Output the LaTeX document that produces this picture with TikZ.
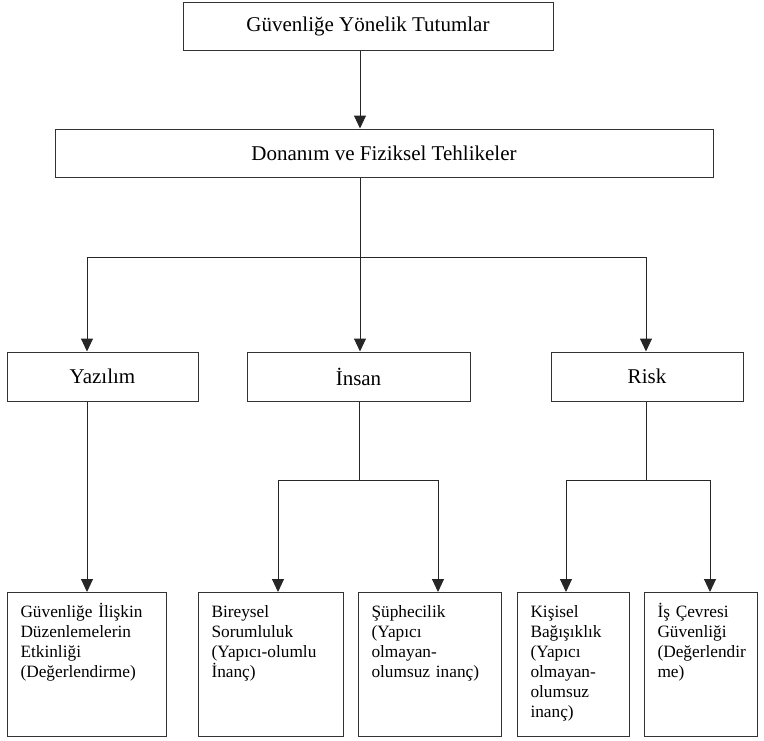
\documentclass[tikz,border=0pt]{standalone}
\usepackage{fontspec}
\setmainfont{Liberation Serif}
\usetikzlibrary{arrows.meta,calc,positioning}

\begin{document}
\begin{tikzpicture}[x=1pt,y=-1pt]
  \tikzset{box/.style={draw=black!80,line width=1pt,rectangle,inner sep=0pt,
                       font=\fontsize{21}{25}\selectfont},
           leaf/.style={draw=black!80,line width=1pt,rectangle,anchor=north west,
                        inner xsep=13pt,inner ysep=8pt,text width=#1,align=left,
                        text height=17pt,text depth=111pt,
                        font=\fontsize{17.3}{20}\selectfont},
           link/.style={draw=black!85,line width=1pt},
           arr/.style={link,-{Triangle[width=12pt,length=13pt]}}}
  \useasboundingbox (0,0) rectangle (764,740);

  % top
  \node[box,minimum width=370pt,minimum height=48pt] (tutum) at (368,26) {Güvenliğe Yönelik Tutumlar};
  \node[box,minimum width=658pt,minimum height=48pt] (donanim) at (384,153) {Donanım ve Fiziksel Tehlikeler};

  % middle
  \node[box,minimum width=191pt,minimum height=49pt] (yazilim) at (102.5,376.5) {Yazılım};
  \node[box,minimum width=223pt,minimum height=49pt] (insan) at (358.5,376.5) {İnsan};
  \node[box,minimum width=192pt,minimum height=49pt] (risk) at (647,376.5) {Risk};

  % bottom
  \node[leaf=133pt] (guvenlik) at (7,592) {Güvenliğe İlişkin\\Düzenlemelerin\\Etkinliği\\(Değerlendirme)};
  \node[leaf=119pt] (bireysel) at (198,592) {Bireysel\\Sorumluluk\\(Yapıcı-olumlu\\İnanç)};
  \node[leaf=117pt] (suphe) at (358,592) {Şüphecilik\\(Yapıcı\\olmayan-\\olumsuz inanç)};
  \node[leaf=86pt] (bagisik) at (517,592) {Kişisel\\Bağışıklık\\(Yapıcı\\olmayan-\\olumsuz\\inanç)};
  \node[leaf=87pt] (cevre) at (644,592) {İş Çevresi\\Güvenliği\\(Değerlendir\\me)};

  \coordinate (hub) at (360,257);
  \coordinate (barL) at (87,257);
  \coordinate (barR) at (646,257);
  \coordinate (insanHub) at (359,480);
  \coordinate (insanL) at (278,480);
  \coordinate (insanR) at (438,480);
  \coordinate (riskHub) at (646,480);
  \coordinate (riskL) at (566,480);
  \coordinate (riskR) at (710,480);

  % level 1
  \draw[arr] (tutum.south -| hub) -- (donanim.north -| hub);
  \draw[link] (donanim.south -| hub) -- (hub);
  \draw[link] (barL) -- (barR);
  \draw[arr] (barL) -- (barL |- yazilim.north);
  \draw[arr] (hub) -- (hub |- insan.north);
  \draw[arr] (barR) -- (barR |- risk.north);

  % Yazılım
  \draw[arr] (barL |- yazilim.south) -- (barL |- guvenlik.north);

  % İnsan
  \draw[link] (insan.south -| insanHub) -- (insanHub);
  \draw[link] (insanL) -- (insanR);
  \draw[arr] (insanL) -- (insanL |- bireysel.north);
  \draw[arr] (insanR) -- (insanR |- suphe.north);

  % Risk
  \draw[link] (risk.south -| riskHub) -- (riskHub);
  \draw[link] (riskL) -- (riskR);
  \draw[arr] (riskL) -- (riskL |- bagisik.north);
  \draw[arr] (riskR) -- (riskR |- cevre.north);
\end{tikzpicture}
\end{document}
